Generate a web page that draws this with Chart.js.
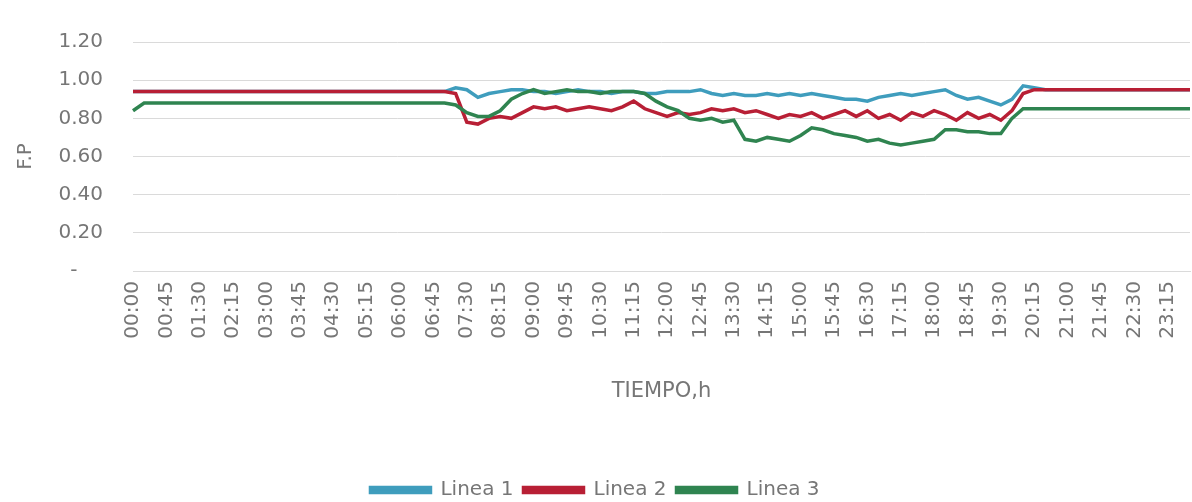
<!DOCTYPE html>
<html>
<head>
<meta charset="utf-8">
<script src="https://cdn.jsdelivr.net/npm/chart.js@4.4.1/dist/chart.umd.min.js"></script>
<style>
  html, body { margin: 0; padding: 0; background: #ffffff; }
  #wrap { width: 1192px; height: 502px; position: relative; }
</style>
</head>
<body>
<div id="wrap"><canvas id="fp"></canvas></div>
<script>
// 15-minute time stamps over one day
const horas = [
  '00:00','00:15','00:30','00:45','01:00','01:15','01:30','01:45',
  '02:00','02:15','02:30','02:45','03:00','03:15','03:30','03:45',
  '04:00','04:15','04:30','04:45','05:00','05:15','05:30','05:45',
  '06:00','06:15','06:30','06:45','07:00','07:15','07:30','07:45',
  '08:00','08:15','08:30','08:45','09:00','09:15','09:30','09:45',
  '10:00','10:15','10:30','10:45','11:00','11:15','11:30','11:45',
  '12:00','12:15','12:30','12:45','13:00','13:15','13:30','13:45',
  '14:00','14:15','14:30','14:45','15:00','15:15','15:30','15:45',
  '16:00','16:15','16:30','16:45','17:00','17:15','17:30','17:45',
  '18:00','18:15','18:30','18:45','19:00','19:15','19:30','19:45',
  '20:00','20:15','20:30','20:45','21:00','21:15','21:30','21:45',
  '22:00','22:15','22:30','22:45','23:00','23:15','23:30','23:45'
];

// Power factor per line
const linea1 = [
  0.94,0.94,0.94,0.94,0.94,0.94,0.94,0.94,0.94,0.94,0.94,0.94,0.94,0.94,0.94,0.94,
  0.94,0.94,0.94,0.94,0.94,0.94,0.94,0.94,0.94,0.94,0.94,0.94,0.94,
  0.96,0.95,0.91,0.93,0.94,0.95,0.95,0.94,0.94,0.93,0.94,0.95,0.94,0.94,0.93,0.94,
  0.94,0.93,0.93,0.94,0.94,0.94,0.95,0.93,0.92,0.93,0.92,0.92,0.93,0.92,0.93,0.92,
  0.93,0.92,0.91,0.90,0.90,0.89,0.91,0.92,0.93,0.92,0.93,0.94,0.95,0.92,0.90,0.91,
  0.89,0.87,0.90,0.97,0.96,0.95,
  0.95,0.95,0.95,0.95,0.95,0.95,0.95,0.95,0.95,0.95,0.95,0.95,0.95
];
const linea2 = [
  0.94,0.94,0.94,0.94,0.94,0.94,0.94,0.94,0.94,0.94,0.94,0.94,0.94,0.94,0.94,0.94,
  0.94,0.94,0.94,0.94,0.94,0.94,0.94,0.94,0.94,0.94,0.94,0.94,0.94,
  0.93,0.78,0.77,0.80,0.81,0.80,0.83,0.86,0.85,0.86,0.84,0.85,0.86,0.85,0.84,0.86,
  0.89,0.85,0.83,0.81,0.83,0.82,0.83,0.85,0.84,0.85,0.83,0.84,0.82,0.80,0.82,0.81,
  0.83,0.80,0.82,0.84,0.81,0.84,0.80,0.82,0.79,0.83,0.81,0.84,0.82,0.79,0.83,0.80,
  0.82,0.79,0.84,0.93,
  0.95,0.95,0.95,0.95,0.95,0.95,0.95,0.95,0.95,0.95,0.95,0.95,0.95,0.95,0.95
];
const linea3 = [
  0.84,
  0.88,0.88,0.88,0.88,0.88,0.88,0.88,0.88,0.88,0.88,0.88,0.88,0.88,0.88,
  0.88,0.88,0.88,0.88,0.88,0.88,0.88,0.88,0.88,0.88,0.88,0.88,0.88,0.88,
  0.87,0.83,0.81,0.81,0.84,0.90,0.93,0.95,0.93,0.94,0.95,0.94,0.94,0.93,0.94,0.94,
  0.94,0.93,0.89,0.86,0.84,0.80,0.79,0.80,0.78,0.79,0.69,0.68,0.70,0.69,0.68,0.71,
  0.75,0.74,0.72,0.71,0.70,0.68,0.69,0.67,0.66,0.67,0.68,0.69,0.74,0.74,0.73,0.73,
  0.72,0.72,0.80,0.85,
  0.85,0.85,0.85,0.85,0.85,0.85,0.85,0.85,0.85,0.85,0.85,0.85,0.85,0.85,0.85
];

const nombres = ['Linea 1', 'Linea 2', 'Linea 3'];
const colores = ['#3f9dbd', '#b81f35', '#2f8450'];
const yTicks = [0, 0.2, 0.4, 0.6, 0.8, 1.0, 1.2];

const FONT = 'DejaVu Sans';
const TXT = '#767676';
const GRID = '#dadada';

const series = [linea1, linea2, linea3];
const datasets = series.map((vals, k) => ({
  label: nombres[k],
  data: vals,
  borderColor: colores[k],
  backgroundColor: colores[k],
  borderWidth: 3.5,
  pointRadius: 0,
  tension: 0,
  fill: false,
  order: 3 - k
}));

new Chart(document.getElementById('fp'), {
  type: 'line',
  data: { labels: horas, datasets },
  options: {
    responsive: true,
    maintainAspectRatio: false,
    animation: false,
    layout: { padding: { top: 25, right: 2, left: 0, bottom: -8 } },
    plugins: {
      tooltip: { enabled: false },
      legend: {
        position: 'bottom',
        labels: {
          boxWidth: 60,
          boxHeight: 5,
          padding: 10,
          color: TXT,
          font: { family: FONT, size: 20 },
          sort: (a, b) => a.datasetIndex - b.datasetIndex
        }
      }
    },
    scales: {
      x: {
        type: 'category',
        offset: false,
        grid: { display: false, drawTicks: false },
        border: { display: true, color: GRID, width: 1 },
        ticks: {
          autoSkip: false,
          minRotation: 90,
          maxRotation: 90,
          padding: 10,
          color: TXT,
          font: { family: FONT, size: 20 },
          callback: function (v, i) { return i % 3 === 0 ? horas[i] : ''; }
        },
        title: {
          display: true,
          text: 'TIEMPO,h',
          color: TXT,
          font: { family: FONT, size: 21 },
          padding: { top: 4, bottom: 66 }
        },
        afterFit: function (scale) {
          scale.height = 199;
          scale.paddingLeft = 0;
          scale.paddingRight = 0;
        }
      },
      y: {
        min: 0,
        max: 1.2,
        afterBuildTicks: function (scale) { scale.ticks = yTicks.map(v => ({ value: v })); },
        grid: { color: GRID, lineWidth: 1, drawTicks: false },
        border: { display: false },
        ticks: {
          padding: 30,
          color: TXT,
          font: { family: FONT, size: 20 },
          callback: function (v) { return v === 0 ? '-    ' : v.toFixed(2); }
        },
        title: {
          display: true,
          text: 'F.P',
          color: TXT,
          font: { family: FONT, size: 20 },
          padding: { top: 14, bottom: 0 }
        },
        afterFit: function (scale) { scale.width = 133; }
      }
    }
  }
});
</script>
</body>
</html>
